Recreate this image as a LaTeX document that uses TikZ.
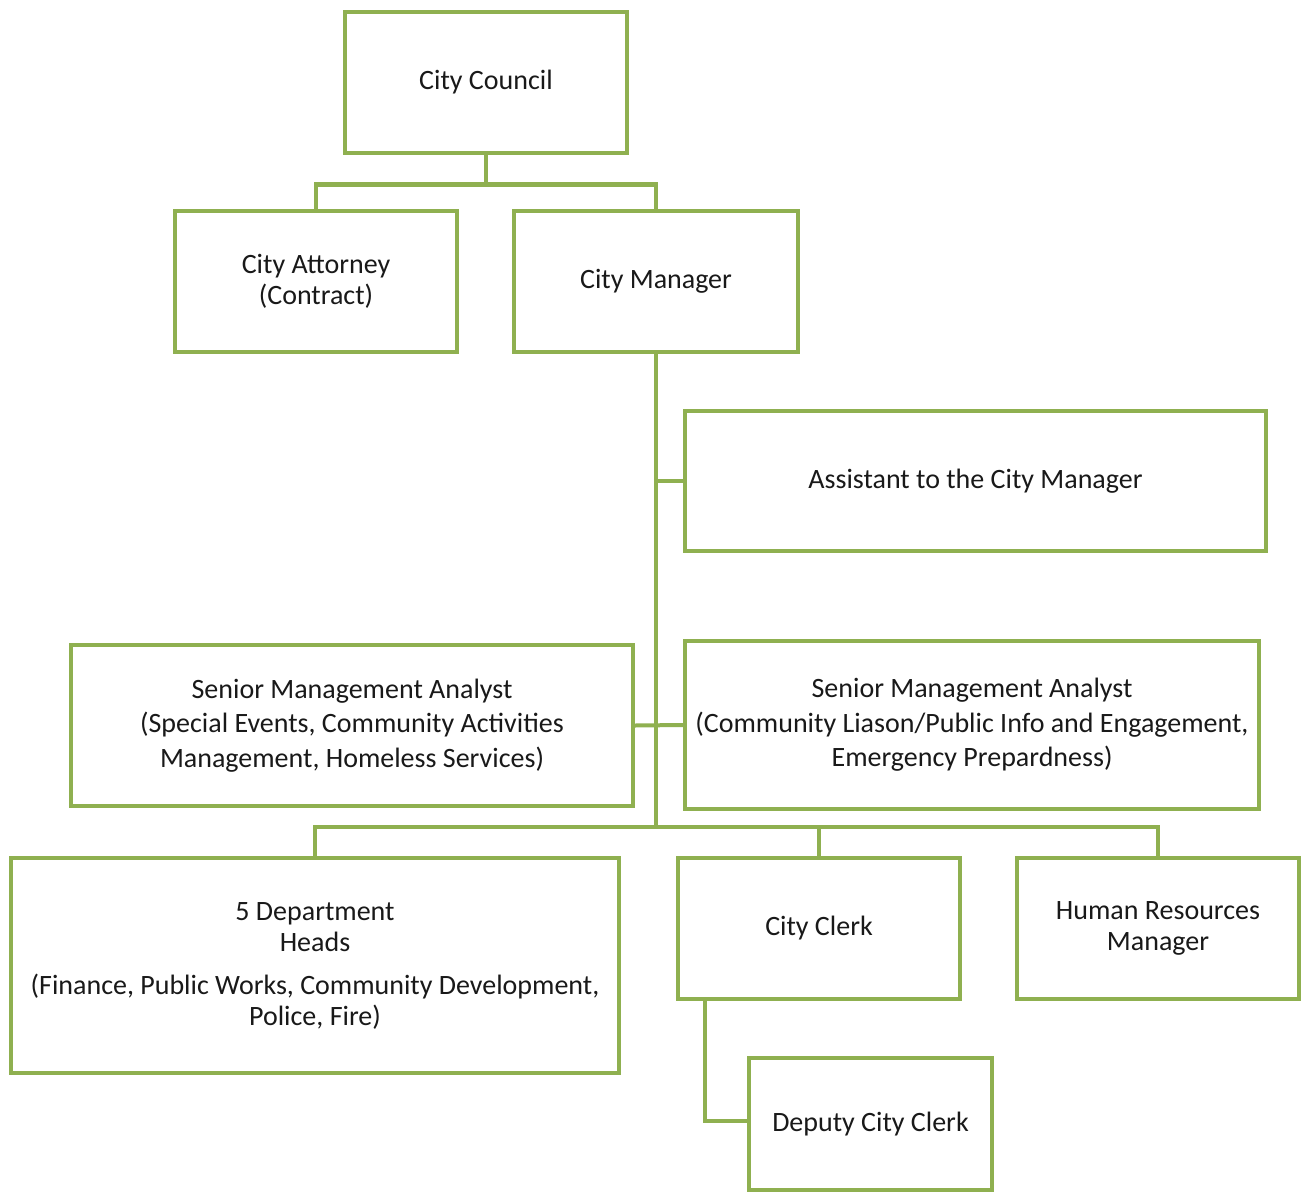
\documentclass[tikz,border=0pt]{standalone}
\usepackage{fontspec}
\setmainfont{Carlito}
\definecolor{boxgreen}{RGB}{143,176,80}
\definecolor{txt}{RGB}{25,25,25}
\begin{document}
\begin{tikzpicture}[x=1pt,y=-1pt,
  orgbox/.style={draw=boxgreen,line width=4pt,fill=white,align=center,text=txt,
    font=\fontsize{28}{31}\selectfont,inner sep=0pt},
  link/.style={draw=boxgreen,line width=4pt}]
\useasboundingbox[fill=white] (0,0) rectangle (1305,1193);
\node[orgbox,minimum width=282pt,minimum height=141pt] (council) at (486,82.5) {City Council};
\node[orgbox,minimum width=282pt,minimum height=141pt] (attorney) at (316,281.5) {City Attorney\\(Contract)};
\node[orgbox,minimum width=284pt,minimum height=141pt] (manager) at (656,281.5) {City Manager};
\node[orgbox,minimum width=581pt,minimum height=140pt] (assistant) at (975.5,481) {Assistant to the City Manager};
\node[orgbox,minimum width=562pt,minimum height=161pt,font=\fontsize{28}{34.5}\selectfont] (smaL) at (352,725.5) {Senior Management Analyst\\(Special Events, Community Activities\\Management, Homeless Services)};
\node[orgbox,minimum width=574pt,minimum height=168pt,font=\fontsize{28}{34.5}\selectfont] (smaR) at (972,725) {Senior Management Analyst\\(Community Liason/Public Info and Engagement,\\Emergency Prepardness)};
\node[orgbox,minimum width=608pt,minimum height=215pt] (dept) at (315,965.5) {5 Department\\Heads\\[12pt](Finance, Public Works, Community Development,\\Police, Fire)};
\node[orgbox,minimum width=282pt,minimum height=141pt] (clerk) at (819,928.5) {City Clerk};
\node[orgbox,minimum width=282pt,minimum height=141pt] (hr) at (1158,928.5) {Human Resources\\Manager};
\node[orgbox,minimum width=243pt,minimum height=132pt] (deputy) at (870.5,1124) {Deputy City Clerk};
\coordinate (bus) at (656,828);
\draw[link] (council.south) -- ++(0,29.5) -| (attorney.north);
\draw[link] (council.south) -- ++(0,29.5) -| (manager.north);
\draw[link] (manager.south) -- (bus);
\draw[link] (manager.south |- assistant.west) -- (assistant.west);
\draw[link] (smaL.east) -- (smaR.west);
\draw[link] (dept.north) -- ++(0,-29) -| (hr.north);
\draw[link] (clerk.north) -- ++(0,-29);
\draw[link] ([xshift=-114pt]clerk.south) |- ([yshift=3pt]deputy.west);
\end{tikzpicture}
\end{document}
